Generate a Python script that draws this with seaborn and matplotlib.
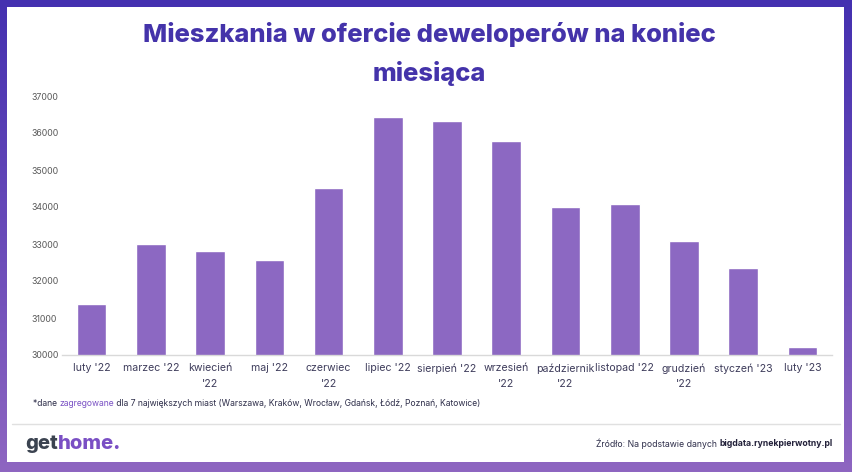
import numpy as np
import pandas as pd
import matplotlib
matplotlib.use("Agg")
import matplotlib.pyplot as plt
import seaborn as sns
from matplotlib.patches import Rectangle
from matplotlib.colors import LinearSegmentedColormap

months = ["luty '22", "marzec '22", "kwiecień\n'22", "maj '22", "czerwiec\n'22",
          "lipiec '22", "sierpień '22", "wrzesień\n'22", "październik\n'22",
          "listopad '22", "grudzień\n'22", "styczeń '23", "luty '23"]
values = [31380, 33000, 32810, 32570, 34510, 36430, 36320, 35780, 34000,
          34080, 33080, 32350, 30220]
yticks = [30000, 31000, 32000, 33000, 34000, 35000, 36000, 37000]

title = "Mieszkania w ofercie deweloperów na koniec\nmiesiąca"

sns.set_theme(style="white")
plt.rcParams['font.family'] = ['Inter', 'DejaVu Sans']

W, H = 852, 472
fig = plt.figure(figsize=(W / 100, H / 100), dpi=100)

# gradient frame
bg = fig.add_axes([0, 0, 1, 1], zorder=-10)
cmap = LinearSegmentedColormap.from_list("g", ["#4430B0", "#8E66C1"])
grad = np.linspace(0, 1, 256).reshape(-1, 1)
bg.imshow(grad, aspect="auto", cmap=cmap, extent=[0, 1, 0, 1], origin="upper")
bg.add_patch(Rectangle((7 / W, 10 / H), (844 - 7) / W, (465 - 10) / H,
                       facecolor="white", edgecolor="none", transform=bg.transAxes))
bg.set_xlim(0, 1); bg.set_ylim(0, 1)
bg.axis("off")

ax = fig.add_axes([62 / W, (H - 355) / H, (832 - 62) / W, (355 - 96) / H])
df = pd.DataFrame({"month": months, "value": values})
sns.barplot(data=df, x="month", y="value", color="#8C68C2", width=0.5,
            saturation=1, ax=ax)
ax.set_ylim(30000, 37000)
ax.set_yticks(yticks)
ax.set_yticklabels([str(v) for v in yticks], fontsize=6.3, color="#595959")
ax.tick_params(axis="y", length=0, pad=22)
ax.tick_params(axis="x", length=0, pad=6)
for lab in ax.get_xticklabels():
    lab.set_fontsize(7.6)
    lab.set_color("#3F3D5C")
    lab.set_linespacing(1.65)
ax.set_xlabel("")
ax.set_ylabel("")
for s in ["top", "right", "left"]:
    ax.spines[s].set_visible(False)
ax.spines["bottom"].set_color("#D9D9D9")
ax.spines["bottom"].set_linewidth(1)
for lab in ax.get_yticklabels():
    lab.set_horizontalalignment("left")
ax.patch.set_alpha(0)

fig.text(429 / W, 1 - 54 / H, title, ha="center", va="center", fontsize=18.4,
         fontweight="heavy", color="#4433AA", linespacing=1.7)

# footnote with coloured word
fig.canvas.draw()
r = fig.canvas.get_renderer()
x0 = 33
y_fn = 1 - 404 / H
parts = [("*dane ", "#2E2E4A"), ("zagregowane", "#7A52C4"),
         (" dla 7 największych miast (Warszawa, Kraków, Wrocław, Gdańsk, Łódź, Poznań, Katowice)", "#2E2E4A")]
x = x0
for txt, col in parts:
    t = fig.text(x / W, y_fn, txt, ha="left", va="center", fontsize=6.2, color=col)
    bb = t.get_window_extent(renderer=r)
    x += bb.width

# separator line
fig.add_artist(plt.Line2D([12 / W, 840 / W], [1 - 424 / H] * 2, color="#E0E0E0", lw=1))

# logo
y_logo = 1 - 444 / H
x = 25
for txt, col in [("get", "#3B4350"), ("home.", "#7A4FC4")]:
    t = fig.text(x / W, y_logo, txt, ha="left", va="center", fontsize=14.5,
                 fontweight="heavy", color=col)
    x += t.get_window_extent(renderer=r).width

# source (right aligned)
y_src = 1 - 444 / H
t2 = fig.text(833 / W, y_src, "bigdata.rynekpierwotny.pl", ha="right", va="center",
              fontsize=6.25, fontweight="bold", color="#23213A")
w2 = t2.get_window_extent(renderer=r).width
fig.text((833 - w2 - 3) / W, y_src, "Źródło: Na podstawie danych", ha="right",
         va="center", fontsize=6.25, color="#2E2E4A")

fig.savefig("out.png", dpi=100)
